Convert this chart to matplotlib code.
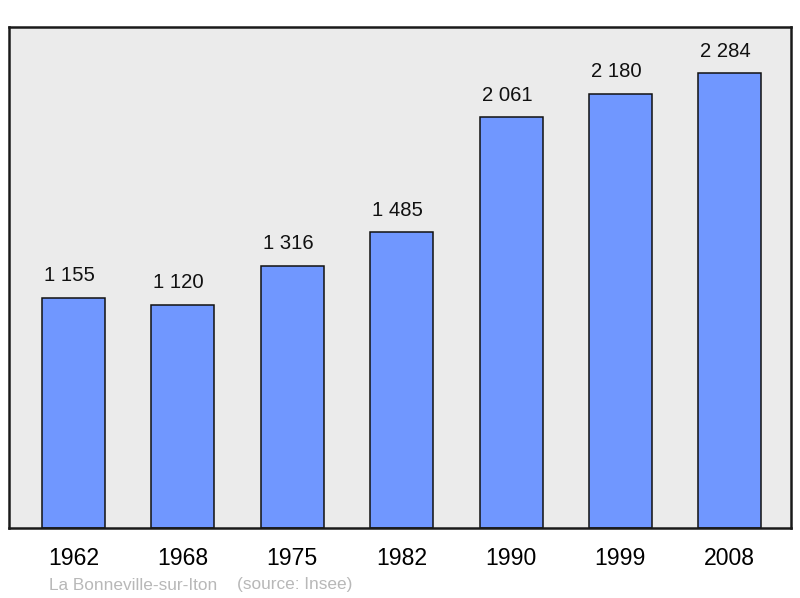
import matplotlib
matplotlib.use("Agg")
import matplotlib.pyplot as plt

years = ["1962", "1968", "1975", "1982", "1990", "1999", "2008"]
population = [1155, 1120, 1316, 1485, 2061, 2180, 2284]
value_labels = ["1 155", "1 120", "1 316", "1 485", "2 061", "2 180", "2 284"]

plt.rcParams['font.family'] = ['Liberation Sans', 'DejaVu Sans']

fig = plt.figure(figsize=(8.0, 5.98), dpi=100)
ax = fig.add_axes([9/800, (598-528)/598, 782/800, (528-27)/598])
ax.set_facecolor('#ebebeb')

x = list(range(len(years)))
ax.bar(x, population, width=0.576, color='#7097ff', edgecolor='#111111', linewidth=1.1, zorder=2)
for xi, v, lab in zip(x, population, value_labels):
    ax.annotate(lab, (xi, v), xytext=(-3, 9), textcoords='offset points',
                ha='center', va='bottom', fontsize=14.6, color='#111111')

ax.set_xlim(-0.59, 6.56)
ax.set_ylim(0, 2515)
ax.set_xticks(x)
ax.set_xticklabels(years, fontsize=16.6)
ax.tick_params(axis='x', length=0, pad=14)
ax.set_yticks([])
for s in ax.spines.values():
    s.set_linewidth(1.8)
    s.set_color('#1a1a1a')

fig.text(49/800, 1 - 589.5/598, "La Bonneville-sur-Iton", fontsize=12.4,
         color='#b8b8b8', ha='left', va='baseline')
fig.text(237/800, 1 - 589.5/598, "(source: Insee)", fontsize=12.4,
         color='#b8b8b8', ha='left', va='baseline')

fig.savefig('out.png', dpi=100)
